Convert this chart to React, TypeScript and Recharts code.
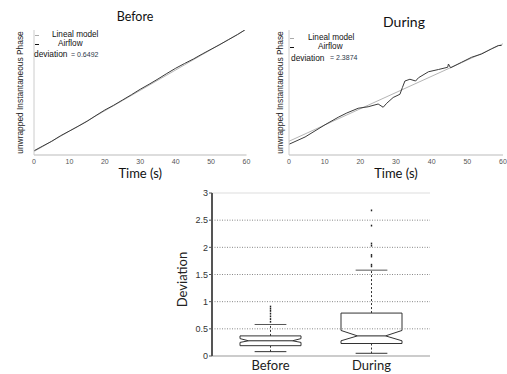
import { LineChart, Line, XAxis, YAxis, ComposedChart, Bar, ReferenceLine } from "recharts";

// phase plots (unwrapped phase, arbitrary units)
const timeTicks = [0, 10, 20, 30, 40, 50, 60];

const beforeTime = [0, 2.5, 5, 7.5, 10, 12.5, 15, 17.5, 20, 22.5, 25, 27.5, 30, 32.5, 35, 37.5, 40, 42.5, 45, 47.5, 50, 52.5, 55, 57.5, 59.5];
const beforeAirflow = [17, 36, 55, 77, 96, 115, 135, 158, 180, 199, 220, 241, 263, 283, 304, 326, 347, 366, 384, 404, 423, 442, 462, 482, 500];
const beforeModelTime = [0, 59.6];
const beforeModel = [14, 500];
const beforePhaseTicks = [0, 100, 200, 300, 400, 500];

const duringTime = [0, 4.5, 10.1, 13.8, 16.2, 19.4, 22.2, 25, 26.4, 27.4, 29.2, 31.1, 31.8, 32.5, 33.9, 35.5, 36.3, 39.1, 41.9, 44.5, 44.7, 45.3, 48.4, 51.2, 54, 56.8, 58.7, 59.6];
const duringAirflow = [43, 72, 121, 151, 168, 187, 193, 204, 191, 207, 230, 243, 270, 296, 303, 296, 309, 333, 342, 351, 364, 349, 371, 391, 404, 425, 438, 438];
const duringModelTime = [0, 60];
const duringModel = [55, 445];
const duringPhaseTicks = [0, 250, 500];

// box plot of deviation
const boxNames = ["Before", "During"];
const whiskerLow = [0.08, 0.05];
const q1 = [0.19, 0.23];
const notchLow = [0.25, 0.28];
const median = [0.28, 0.37];
const notchHigh = [0.32, 0.47];
const q3 = [0.37, 0.79];
const whiskerHigh = [0.58, 1.58];
const outliers = [
  [0.63, 0.68, 0.73, 0.78, 0.83, 0.87, 0.91],
  [1.65, 1.68, 1.83, 1.86, 2.03, 2.07, 2.4, 2.68],
];
const notchDepth = [0.14, 0.27];
const deviationTicks = [0, 0.5, 1, 1.5, 2, 2.5, 3];
const gridLevels = [0.5, 1, 1.5, 2, 2.5];

const toPoints = (ts: number[], vs: number[]) => ts.map((t, i) => ({ t, v: vs[i] }));

const boxData = boxNames.map((name, i) => {
  const all = [whiskerLow[i], whiskerHigh[i], ...outliers[i]];
  return {
    name,
    range: [Math.min(...all), Math.max(...all)],
    wLo: whiskerLow[i],
    q1: q1[i],
    nLo: notchLow[i],
    med: median[i],
    nHi: notchHigh[i],
    q3: q3[i],
    wHi: whiskerHigh[i],
    out: outliers[i],
    depth: notchDepth[i],
  };
});

const SANS = "'Liberation Sans', Arial, sans-serif";
const TITLE = "Lato, 'Open Sans', sans-serif";

const vLabel = (text: string, cx: number, size: number, shift = 0) => (props: any) => {
  const vb = props.viewBox || { y: 0, height: 0 };
  const cy = vb.y + vb.height / 2 + shift;
  return (
    <text
      x={cx}
      y={cy}
      transform={`rotate(-90, ${cx}, ${cy})`}
      textAnchor="middle"
      dominantBaseline="central"
      fontSize={size}
      fontFamily={text === "Deviation" ? TITLE : SANS}
      fill="#222"
    >
      {text}
    </text>
  );
};

const PhaseChart = ({
  width,
  yWidth,
  marginRight,
  airflow,
  model,
  ticks,
  rightColor,
  labelX,
}: any) => (
  <LineChart width={width} height={182} margin={{ top: 30, right: marginRight, bottom: 0, left: 0 }}>
    <XAxis
      dataKey="t"
      type="number"
      domain={[0, 60]}
      ticks={timeTicks}
      interval={0}
      height={27}
      tickSize={2}
      tickLine={false}
      axisLine={{ stroke: "#bbb" }}
      tick={{ fontSize: 7, fill: "#555", fontFamily: SANS }}
      label={{ value: "Time (s)", position: "insideBottom", offset: 4, fontSize: 13, fill: "#111", fontFamily: TITLE }}
      allowDataOverflow
    />
    <XAxis
      xAxisId="top"
      orientation="top"
      dataKey="t"
      type="number"
      domain={[0, 60]}
      ticks={timeTicks}
      height={0}
      mirror
      tick={false}
      tickSize={2}
      tickLine={{ stroke: "#ccc" }}
      axisLine={false}
    />
    <YAxis
      type="number"
      domain={[0, 500]}
      ticks={ticks}
      width={yWidth}
      tick={false}
      tickLine={false}
      axisLine={{ stroke: "#ccc" }}
      label={vLabel("unwrapped Instantaneous Phase", labelX, 8.4)}
      allowDataOverflow
    />
    <YAxis
      yAxisId="right"
      orientation="right"
      type="number"
      domain={[0, 500]}
      ticks={ticks}
      width={0}
      mirror
      tick={false}
      tickSize={3}
      tickLine={{ stroke: "#999" }}
      axisLine={{ stroke: rightColor }}
    />
    <Line data={model} dataKey="v" type="linear" stroke="#b5b5b5" strokeWidth={1} dot={false} isAnimationActive={false} />
    <Line data={airflow} dataKey="v" type="linear" stroke="#3a3a3a" strokeWidth={1} dot={false} isAnimationActive={false} />
  </LineChart>
);

const BoxShape = (props: any) => {
  const { x, y, width, height, payload } = props;
  const top = Math.min(y, y + height);
  const h = Math.abs(height);
  const [lo, hi] = payload.range;
  const py = (v: number) => top + ((hi - v) / (hi - lo)) * h;
  const l = x;
  const r = x + width;
  const cx = x + width / 2;
  const ni = width * payload.depth;
  const cap = width * 0.26;
  const d = [
    `M${l},${py(payload.q3)}`,
    `L${r},${py(payload.q3)}`,
    `L${r},${py(payload.nHi)}`,
    `L${r - ni},${py(payload.med)}`,
    `L${r},${py(payload.nLo)}`,
    `L${r},${py(payload.q1)}`,
    `L${l},${py(payload.q1)}`,
    `L${l},${py(payload.nLo)}`,
    `L${l + ni},${py(payload.med)}`,
    `L${l},${py(payload.nHi)}`,
    "Z",
  ].join(" ");
  return (
    <g>
      <line x1={cx} x2={cx} y1={py(payload.q3)} y2={py(payload.wHi)} stroke="#333" strokeDasharray="2 2" />
      <line x1={cx} x2={cx} y1={py(payload.q1)} y2={py(payload.wLo)} stroke="#333" strokeDasharray="2 2" />
      <line x1={cx - cap} x2={cx + cap} y1={py(payload.wHi)} y2={py(payload.wHi)} stroke="#555" />
      <line x1={cx - cap} x2={cx + cap} y1={py(payload.wLo)} y2={py(payload.wLo)} stroke="#333" />
      <path d={d} fill="#fff" stroke="#333" strokeWidth={1} />
      <line x1={l + ni} x2={r - ni} y1={py(payload.med)} y2={py(payload.med)} stroke="#222" strokeWidth={1} />
      {payload.out.map((v: number, i: number) => (
        <rect key={i} x={cx - 0.7} y={py(v) - 0.9} width={1.4} height={1.8} fill="#222" />
      ))}
    </g>
  );
};

const legendText = (text: string, left: number, cy: number, size: number, color = "#111") => (
  <div
    style={{
      position: "absolute",
      left,
      top: cy - size * 0.6,
      fontSize: size,
      lineHeight: 1.2 + "",
      fontFamily: SANS,
      color,
      whiteSpace: "nowrap",
    }}
  >
    {text}
  </div>
);

const dash = (left: number, cy: number, color: string, thick: number) => (
  <div style={{ position: "absolute", left, top: cy - thick / 2, width: 4, height: thick, background: color }} />
);

const title = (text: string, cx: number, cy: number, size: number) => (
  <div
    style={{
      position: "absolute",
      left: cx - 50,
      width: 100,
      top: cy - size * 0.6,
      textAlign: "center",
      fontSize: size,
      lineHeight: 1.2 + "",
      fontFamily: TITLE,
      color: "#111",
    }}
  >
    {text}
  </div>
);

export default function App() {
  return (
    <div style={{ position: "absolute", left: 0, top: 0, width: 507, height: 374, background: "#fff", overflow: "hidden" }}>
      <div style={{ position: "absolute", left: 0, top: 0 }}>
        <PhaseChart
          width={260}
          yWidth={34}
          marginRight={13.5}
          airflow={toPoints(beforeTime, beforeAirflow)}
          model={toPoints(beforeModelTime, beforeModel)}
          ticks={beforePhaseTicks}
          rightColor="#555"
          labelX={20}
        />
      </div>
      <div style={{ position: "absolute", left: 250, top: 0 }}>
        <PhaseChart
          width={257}
          yWidth={39}
          marginRight={4}
          airflow={toPoints(duringTime, duringAirflow)}
          model={toPoints(duringModelTime, duringModel)}
          ticks={duringPhaseTicks}
          rightColor="#ccc"
          labelX={30}
        />
      </div>

      {title("Before", 135, 16, 12.5)}
      {title("During", 404, 22, 14)}

      {dash(35, 35, "#aaa", 1)}
      {legendText("Lineal model", 52, 35, 8.2)}
      {dash(35, 44.3, "#111", 1.5)}
      {legendText("Airflow", 58, 44.3, 8.2)}
      {legendText("deviation", 34, 54.3, 8.4)}
      {legendText("= 0.6492", 71, 55, 7, "#2d3a4a")}

      {dash(290, 38, "#aaa", 1)}
      {legendText("Lineal model", 308, 38, 8.2)}
      {dash(290, 47.3, "#111", 1.5)}
      {legendText("Airflow", 318, 47.3, 8.2)}
      {legendText("deviation", 291, 58, 8.4)}
      {legendText("= 2.3874", 330, 58, 7, "#2d3a4a")}

      <div style={{ position: "absolute", left: 140, top: 180 }}>
        <ComposedChart width={300} height={200} data={boxData} margin={{ top: 13, right: 10, bottom: 0, left: 40 }}>
          <XAxis
            dataKey="name"
            height={24}
            padding={{ left: 8, right: 8 }}
            tickLine={false}
            tickSize={0}
            tickMargin={5}
            axisLine={{ stroke: "#999" }}
            tick={{ fontSize: 13, fill: "#222", fontFamily: TITLE }}
          />
          <YAxis
            type="number"
            domain={[0, 3]}
            ticks={deviationTicks}
            interval={0}
            width={32}
            tickSize={3}
            tickMargin={1}
            tickFormatter={(v: number) => String(v)}
            tick={{ fontSize: 9, fill: "#333", fontFamily: SANS }}
            tickLine={{ stroke: "#555" }}
            axisLine={{ stroke: "#555", strokeWidth: 2 }}
            label={vLabel("Deviation", 42, 13, 5)}
          />
          <YAxis
            yAxisId="right"
            orientation="right"
            type="number"
            domain={[0, 3]}
            width={0}
            tick={false}
            tickLine={false}
            axisLine={{ stroke: "#ddd" }}
          />
          {gridLevels.map((g) => (
            <ReferenceLine key={g} y={g} stroke="#888" strokeDasharray="1 1.5" />
          ))}
          <ReferenceLine y={3} stroke="#ddd" />
          <Bar dataKey="range" barSize={61} shape={<BoxShape />} isAnimationActive={false} />
        </ComposedChart>
      </div>
    </div>
  );
}
